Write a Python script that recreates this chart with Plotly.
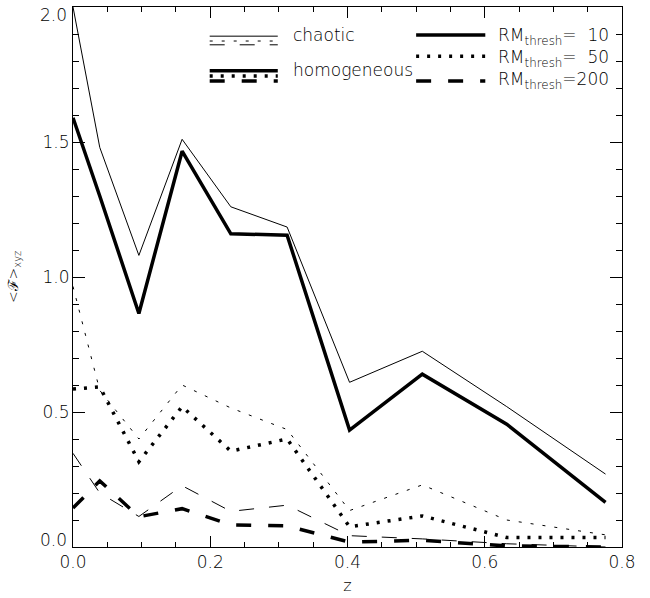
import plotly.graph_objects as go

# ---- data ----
z = [0.0, 0.039, 0.096, 0.159, 0.230, 0.312, 0.403, 0.509, 0.632, 0.776]
chaotic_10 = [2.0, 1.48, 1.08, 1.51, 1.26, 1.185, 0.61, 0.725, 0.52, 0.27]
homog_10 = [1.59, 1.30, 0.865, 1.466, 1.16, 1.155, 0.433, 0.64, 0.455, 0.165]
chaotic_50 = [0.965, 0.58, 0.40, 0.60, 0.515, 0.435, 0.135, 0.23, 0.10, 0.045]
homog_50 = [0.585, 0.593, 0.316, 0.52, 0.355, 0.40, 0.075, 0.115, 0.035, 0.035]
chaotic_200 = [0.347, 0.20, 0.113, 0.227, 0.132, 0.155, 0.042, 0.03, 0.012, 0.0]
homog_200 = [0.144, 0.245, 0.112, 0.142, 0.082, 0.078, 0.018, 0.025, 0.004, 0.0]

x_ticks = [0.0, 0.2, 0.4, 0.6, 0.8]
y_ticks = [0.0, 0.5, 1.0, 1.5, 2.0]

FONT = "DejaVu Sans"
TXT = "black"
THIN = 1.0
THICK = 3.5
DASH_SHORT = "3px,9px"
DOT_THICK = "3px,8px"
DASH_LONG = "15px,15px"
DASH_LONG_THICK = "15px,17px"

series = [
    (chaotic_10, THIN, "solid"),
    (homog_10, THICK, "solid"),
    (chaotic_50, THIN, DASH_SHORT),
    (homog_50, THICK, DOT_THICK),
    (chaotic_200, THIN, DASH_LONG),
    (homog_200, THICK, DASH_LONG_THICK),
]

fig = go.Figure()
for vals, w, d in series:
    fig.add_trace(go.Scatter(x=z, y=vals, mode="lines",
                             line=dict(color="black", width=w, dash=d),
                             showlegend=False, hoverinfo="skip"))

# ---- custom legend (paper coordinates) ----
def sample(x0, x1, y, w, d):
    fig.add_shape(type="line", xref="paper", yref="paper",
                  x0=x0, x1=x1, y0=y, y1=y,
                  line=dict(color="black", width=w, dash=d))

def label(x, y, text):
    fig.add_annotation(xref="paper", yref="paper", x=x, y=y, text=text,
                       showarrow=False, xanchor="left", yanchor="middle",
                       xshift=-2,
                       font=dict(family=FONT, size=17, color=TXT, weight=200))

lx0, lx1 = 0.249, 0.373
sample(lx0, lx1, 0.946, THIN, "solid")
sample(lx0, lx1, 0.937, THIN, DASH_SHORT)
sample(lx0, lx1, 0.930, THIN, DASH_LONG)
label(0.401, 0.948, "chaotic")
sample(lx0, lx1, 0.882, THICK, "solid")
sample(lx0, lx1, 0.872, THICK, DOT_THICK)
sample(lx0, lx1, 0.863, THICK, DASH_LONG_THICK)
label(0.401, 0.884, "homogeneous")

rx0, rx1 = 0.625, 0.751
sample(rx0, rx1, 0.948, THICK, "solid")
sample(rx0, rx1, 0.909, THICK, DOT_THICK)
sample(rx0, rx1, 0.863, THICK, DASH_LONG_THICK)
label(0.774, 0.946, "RM<sub>thresh</sub>=  10")
label(0.774, 0.905, "RM<sub>thresh</sub>=  50")
label(0.774, 0.864, "RM<sub>thresh</sub>=200")

tickfont = dict(family=FONT, size=17, color=TXT, weight=200)
axis_common = dict(showline=True, linecolor="black", linewidth=1,
                   mirror="allticks", ticks="inside", tickcolor="black",
                   showgrid=False, zeroline=False,
                   automargin=False,
                   ticklabeloverflow="allow", tickfont=tickfont)

# y tick labels: the end labels are shifted inward (like the reference),
# so they are drawn as annotations anchored at their tick values
y_text = [f"{v:.1f}" for v in y_ticks]
y_text_axis = [""] + y_text[1:-1] + [""]
for v, t, anchor in [(y_ticks[0], y_text[0], "bottom"), (y_ticks[-1], y_text[-1], "top")]:
    fig.add_annotation(xref="paper", yref="y", x=0, y=v, text=t, showarrow=False,
                       xanchor="right", yanchor=anchor, xshift=-4,
                       yshift=(-5 if anchor == "bottom" else 4),
                       font=tickfont)

fig.update_xaxes(range=[0, 0.8], tickvals=x_ticks,
                 ticktext=[f"{v:.1f}" for v in x_ticks], ticklen=11,
                 minor=dict(dtick=0.05, ticklen=5, ticks="inside",
                            tickcolor="black", showgrid=False),
                 title=dict(text="z", font=dict(family=FONT, size=16, color=TXT, weight=200),
                            standoff=8),
                 **axis_common)
fig.update_yaxes(range=[0, 2.0], tickvals=y_ticks, ticktext=y_text_axis, ticklen=12,
                 ticklabelstandoff=-1,
                 minor=dict(dtick=0.1, ticklen=6, ticks="inside",
                            tickcolor="black", showgrid=False),
                 title=dict(text="&lt;ℱ&gt;<sub>xyz</sub>",
                            font=dict(family=FONT, size=14, color=TXT, weight=200),
                            standoff=20),
                 **axis_common)

fig.update_layout(width=650, height=598,
                  margin=dict(l=73, r=28, t=7, b=51),
                  paper_bgcolor="white", plot_bgcolor="white")

fig.write_html("out.html")
